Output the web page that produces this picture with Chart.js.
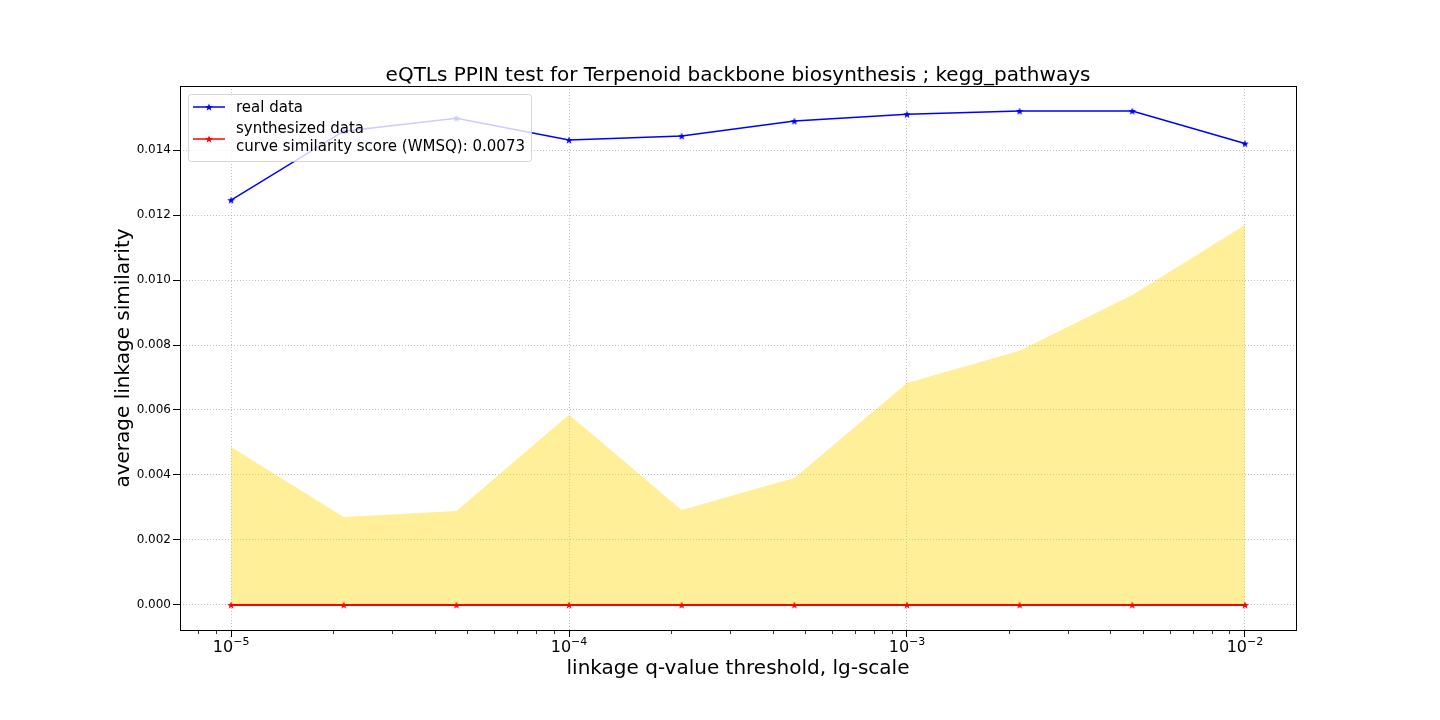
<!DOCTYPE html>
<html>
<head>
<meta charset="utf-8">
<script src="https://cdn.jsdelivr.net/npm/chart.js@4/dist/chart.umd.min.js"></script>
<style>
  body { margin: 0; background: #fff; }
  #wrap { width: 1440px; height: 720px; }
</style>
</head>
<body>
<div id="wrap"><canvas id="chart" width="1440" height="720"></canvas></div>
<script>
// q-value thresholds (log-spaced)
const thresholds = [1e-5, 2.154e-5, 4.642e-5, 1e-4, 2.154e-4, 4.642e-4, 1e-3, 2.154e-3, 4.642e-3, 1e-2];
const realData = [0.01246, 0.01458, 0.01498, 0.01431, 0.01443, 0.01489, 0.01510, 0.01520, 0.01520, 0.01420];
const synthData = [0, 0, 0, 0, 0, 0, 0, 0, 0, 0];
const bandUpper = [0.00486, 0.00271, 0.00289, 0.00585, 0.00292, 0.00391, 0.00683, 0.00782, 0.00954, 0.01169];
const xMajor = [1e-5, 1e-4, 1e-3, 1e-2];
const xMajorLabels = ["\u22125", "\u22124", "\u22123", "\u22122"];
const yTicks = [0, 0.002, 0.004, 0.006, 0.008, 0.010, 0.012, 0.014];

const FONT = "'DejaVu Sans', sans-serif";

// filled matplotlib-like star marker
function starImage(color) {
  let c = document.createElement("canvas");
  c.width = 10; c.height = 10;
  let g = c.getContext("2d");
  let R = 4, r = 1.7;
  g.beginPath();
  for (let i = 0; i < 10; i++) {
    let rad = i % 2 ? r : R;
    let a = -Math.PI / 2 + i * Math.PI / 5;
    let px = 5 + rad * Math.cos(a), py = 5.4 + rad * Math.sin(a);
    i ? g.lineTo(px, py) : g.moveTo(px, py);
  }
  g.closePath();
  g.fillStyle = color;
  g.fill();
  return c;
}
const blueStar = starImage("#0000ff");
const redStar = starImage("#ff0000");

function pts(arr) {
  return thresholds.map((x, i) => ({x: x, y: arr[i]}));
}

// Title, axis titles, x labels, minor ticks, frame and legend
const decor = {
  id: "decor",
  afterDraw(chart) {
    const ctx = chart.ctx;
    const a = chart.chartArea;
    const xs = chart.scales.x;
    ctx.save();
    ctx.fillStyle = "#000";
    ctx.strokeStyle = "#000";

    // minor ticks
    ctx.lineWidth = 0.8;
    ctx.beginPath();
    for (let e = -6; e <= -2; e++) {
      for (let m = 2; m <= 9; m++) {
        let v = m * Math.pow(10, e);
        if (v < xs.min || v > xs.max) continue;
        let px = Math.round(xs.getPixelForValue(v)) + 0.5;
        ctx.moveTo(px, a.bottom);
        ctx.lineTo(px, a.bottom + 4);
      }
    }
    ctx.stroke();

    // frame
    ctx.lineWidth = 1;
    ctx.strokeRect(Math.round(a.left) + 0.5, Math.round(a.top) + 0.5,
      Math.round(a.right - a.left), Math.round(a.bottom - a.top));

    // x tick labels 10^k
    xMajor.forEach((v, i) => {
      let px = xs.getPixelForValue(v);
      ctx.font = "16px " + FONT;
      let w1 = ctx.measureText("10").width;
      ctx.font = "11px " + FONT;
      let w2 = ctx.measureText(xMajorLabels[i]).width;
      let start = px - (w1 + w2) / 2;
      ctx.textAlign = "left";
      ctx.textBaseline = "alphabetic";
      ctx.font = "16px " + FONT;
      ctx.fillText("10", start, 652);
      ctx.font = "11px " + FONT;
      ctx.fillText(xMajorLabels[i], start + w1, 645);
    });

    // titles
    ctx.textAlign = "center";
    ctx.textBaseline = "alphabetic";
    ctx.font = "20px " + FONT;
    ctx.fillText("eQTLs PPIN test for Terpenoid backbone biosynthesis ; kegg_pathways", (a.left + a.right) / 2, 81);
    ctx.fillText("linkage q-value threshold, lg-scale", (a.left + a.right) / 2, 674);
    ctx.save();
    ctx.translate(124, (a.top + a.bottom) / 2);
    ctx.rotate(-Math.PI / 2);
    ctx.textBaseline = "middle";
    ctx.fillText("average linkage similarity", 0, 0);
    ctx.restore();

    // legend
    let lx = 188.5, ly = 94.5, lw = 343, lh = 67;
    ctx.beginPath();
    ctx.roundRect(lx, ly, lw, lh, 3);
    ctx.fillStyle = "rgba(255,255,255,0.8)";
    ctx.fill();
    ctx.strokeStyle = "rgba(204,204,204,0.8)";
    ctx.lineWidth = 1;
    ctx.stroke();

    const items = [
      {color: "#0000ff", star: blueStar, y: 107, lines: [["real data", 112]]},
      {color: "#ff0000", star: redStar, y: 139, lines: [["synthesized data", 133], ["curve similarity score (WMSQ): 0.0073", 151]]}
    ];
    items.forEach(it => {
      ctx.strokeStyle = it.color;
      ctx.lineWidth = 1.5;
      ctx.beginPath();
      ctx.moveTo(193, it.y);
      ctx.lineTo(225, it.y);
      ctx.stroke();
      ctx.drawImage(it.star, 209 - 5, it.y - 5);
      ctx.fillStyle = "#000";
      ctx.font = "15px " + FONT;
      ctx.textAlign = "left";
      it.lines.forEach(([t, by]) => ctx.fillText(t, 236, by));
    });
    ctx.restore();
  }
};

chart = new Chart("chart", {
  type: "line",
  data: {
    datasets: [
      {
        label: "real data",
        data: pts(realData),
        borderColor: "#0000ff",
        backgroundColor: "#0000ff",
        borderWidth: 1.5,
        pointStyle: blueStar,
        pointRadius: 4,
        tension: 0,
        fill: false,
        order: 1
      },
      {
        label: "synthesized data",
        data: pts(synthData),
        borderColor: "#ff0000",
        backgroundColor: "#ff0000",
        borderWidth: 1.8,
        pointStyle: redStar,
        pointRadius: 4,
        tension: 0,
        fill: false,
        order: 2
      },
      {
        label: "band",
        data: pts(bandUpper),
        borderColor: "rgba(255,215,0,0.4)",
        backgroundColor: "rgba(255,215,0,0.4)",
        borderWidth: 0,
        pointRadius: 0,
        tension: 0,
        fill: "origin",
        order: 3
      }
    ]
  },
  options: {
    responsive: false,
    animation: false,
    layout: {padding: {top: 86, right: 144, left: 0, bottom: 0}},
    plugins: {
      legend: {display: false},
      title: {display: false},
      tooltip: {enabled: false}
    },
    scales: {
      x: {
        type: "logarithmic",
        min: 7.06e-6,
        max: 1.416e-2,
        afterBuildTicks: s => { s.ticks = xMajor.map(v => ({value: v})); },
        afterFit: s => { s.height = 90; },
        ticks: {display: false},
        grid: {color: "#b0b0b0", lineWidth: 0.8, tickColor: "#000", tickLength: 7, tickBorderDash: [], tickWidth: 1},
        border: {display: false, dash: [1, 2]}
      },
      y: {
        type: "linear",
        min: -0.00077,
        max: 0.01597,
        afterBuildTicks: s => { s.ticks = yTicks.map(v => ({value: v})); },
        afterFit: s => { s.width = 180; },
        ticks: {
          color: "#000",
          font: {family: FONT, size: 12},
          padding: 2,
          callback: v => v.toFixed(3)
        },
        grid: {color: "#b0b0b0", lineWidth: 0.8, tickColor: "#000", tickLength: 7, tickBorderDash: [], tickWidth: 1},
        border: {display: false, dash: [1, 2]}
      }
    }
  },
  plugins: [decor]
});
</script>
</body>
</html>
